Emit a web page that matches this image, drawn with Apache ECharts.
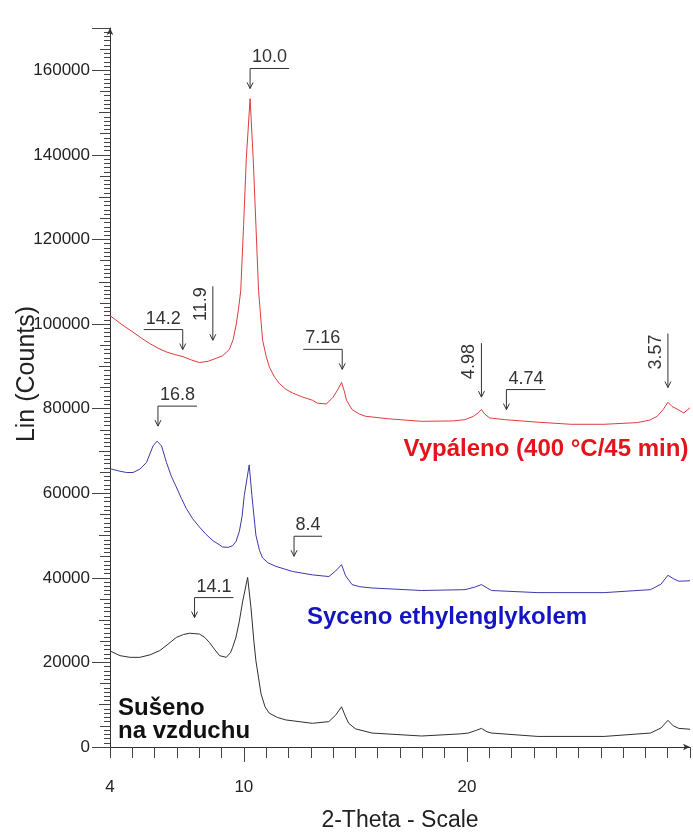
<!DOCTYPE html>
<html>
<head>
<meta charset="utf-8">
<script src="https://cdn.jsdelivr.net/npm/echarts@6/dist/echarts.min.js"></script>
<style>html,body{margin:0;padding:0;background:#fff}#c{width:693px;height:837px}</style>
</head>
<body>
<div id="c"></div>
<script>
// ---- Data (2-Theta, Lin counts) ----
const xTickLabels = [4, 10, 20];
const xMajorTicks = [10, 20];

const vypaleno = [
  [4.00,102000],[4.50,100000],[5.03,98100],[5.40,96700],[5.78,95400],[6.15,94300],[6.53,93400],[6.90,92800],
  [7.27,92300],[7.65,91500],[8.01,90900],[8.40,91200],[8.76,91900],[9.05,92500],[9.35,94000],[9.52,96300],
  [9.66,100000],[9.76,103500],[9.86,107900],[9.99,123500],[10.11,139100],[10.28,153300],[10.42,139100],
  [10.54,123500],[10.66,107900],[10.84,96200],[11.00,92400],[11.14,89900],[11.35,87700],[11.58,86000],
  [11.88,84600],[12.18,83700],[12.60,82800],[13.07,82000],[13.30,81300],[13.70,81100],[14.00,82700],
  [14.20,84400],[14.38,86200],[14.50,84200],[14.60,82000],[14.85,79800],[15.15,78800],[15.45,78200],
  [16.49,77600],[17.97,77000],[19.40,77100],[19.91,77400],[20.30,78200],[20.50,79000],[20.65,79800],
  [20.80,78700],[21.02,77800],[21.69,77400],[23.18,76800],[24.65,76300],[26.15,76300],[27.64,76700],
  [28.20,77300],[28.53,78200],[28.80,79800],[29.01,81500],[29.20,80500],[29.42,79900],[29.72,79000],[30.00,80200]
];

const syceno = [
  [4.00,65800],[4.45,65200],[4.74,64900],[5.03,64900],[5.34,65700],[5.64,67300],[5.93,71200],[6.11,72300],
  [6.31,71200],[6.53,67300],[6.75,64000],[6.97,61500],[7.20,58800],[7.42,56400],[7.70,54000],[8.01,52000],
  [8.30,50300],[8.61,48800],[9.05,47300],[9.30,47200],[9.50,47600],[9.65,48600],[9.80,51000],[9.92,54500],
  [10.02,59500],[10.24,66700],[10.36,59500],[10.54,50100],[10.70,46500],[10.84,44700],[11.10,43500],
  [11.44,42700],[12.18,41500],[13.07,40700],[13.81,40300],[14.11,41600],[14.38,43100],[14.56,40500],
  [14.85,38400],[15.20,37900],[15.74,37600],[17.97,37000],[19.91,37200],[20.35,37800],[20.65,38400],
  [21.10,37000],[23.18,36500],[26.15,36500],[28.23,37200],[28.70,38500],[29.01,40600],[29.25,39800],
  [29.50,39200],[30.00,39300]
];

const suseno = [
  [4.00,22700],[4.45,21600],[4.90,21200],[5.34,21200],[5.80,21800],[6.23,22800],[6.60,24300],[6.97,25900],
  [7.30,26600],[7.57,26900],[8.01,26700],[8.25,25900],[8.46,24700],[8.70,23000],[8.91,21600],[9.21,21200],
  [9.40,22300],[9.50,23600],[9.65,26000],[9.80,29800],[9.95,34500],[10.17,40100],[10.32,32900],[10.45,25000],
  [10.54,20400],[10.77,12600],[10.95,9500],[11.14,8000],[11.50,7000],[11.88,6400],[13.07,5600],[13.81,6000],
  [14.11,7500],[14.38,9500],[14.55,7300],[14.70,5600],[15.00,4300],[15.74,3300],[17.97,2600],[19.70,3100],
  [20.06,3300],[20.40,3900],[20.65,4400],[20.90,3600],[21.10,3300],[23.18,2500],[26.15,2500],[28.23,3300],
  [28.70,4500],[29.01,6300],[29.25,5000],[29.50,4400],[30.00,4200]
];

// d-spacing annotations: arrow tip position (2-Theta, counts)
const annotTheta  = [10.28, 7.26, 8.61, 14.41, 20.65, 21.77, 29.01, 6.15, 12.25, 7.79];
const annotCounts = [155700, 93970, 96170, 89290, 82730, 79780, 85000, 75870, 45100, 30600];
const annotText   = ['10.0','14.2','11.9','7.16','4.98','4.74','3.57','16.8','8.4','14.1'];
const annotSide   = ['right','left','up','left','up','right','up','right','right','right'];

// trace labels
const seriesNames = ['Vypáleno (400 °C/45 min)', 'Syceno ethylenglykolem', 'Sušeno\nna vzduchu'];
const nameTheta   = [17.16, 12.83, 4.36];
const nameCounts  = [70400, 30700, 6300];

// ---- Styles ----
const FONT = '"Liberation Sans", Arial, Helvetica, sans-serif';
const lineColors = ['#e03c3c', '#3a3aaa', '#303030'];
const nameColors = ['#e5141c', '#1414c4', '#111111'];
const ANN = '#333333';

function renderAnnot(params, api) {
  const i = api.value(2);
  const p = api.coord([api.value(0), api.value(1)]);
  const side = annotSide[i];
  const text = annotText[i];
  const ls = {stroke: ANN, lineWidth: 1, fill: 'none'};
  const children = [
    {type: 'polyline', shape: {points: [[p[0]-3, p[1]-6], [p[0], p[1]], [p[0]+3, p[1]-6]]}, style: ls}
  ];
  if (side === 'up') {
    const top = p[1] - 54;
    children.push({type: 'line', shape: {x1: p[0], y1: top, x2: p[0], y2: p[1]}, style: ls});
    children.push({type: 'text', x: p[0] - 12, y: top + 1, rotation: Math.PI / 2,
      style: {text: text, fill: ANN, font: '18px ' + FONT,
        textAlign: 'right', textVerticalAlign: 'middle', align: 'right', verticalAlign: 'middle'}});
  } else {
    const top = p[1] - 20;
    const len = 11 * text.length - 5;
    const x2 = side === 'right' ? p[0] + len : p[0] - len;
    children.push({type: 'line', shape: {x1: p[0], y1: top, x2: p[0], y2: p[1]}, style: ls});
    children.push({type: 'line', shape: {x1: p[0], y1: top, x2: x2, y2: top}, style: ls});
    children.push({type: 'text', x: (p[0] + x2) / 2, y: top - 2,
      style: {text: text, fill: ANN, font: '18px ' + FONT,
        textAlign: 'center', textVerticalAlign: 'bottom', align: 'center', verticalAlign: 'bottom'}});
  }
  return {type: 'group', children: children};
}

function renderName(params, api) {
  const i = api.value(2);
  const p = api.coord([api.value(0), api.value(1)]);
  return {type: 'text', x: p[0], y: p[1],
    style: {text: seriesNames[i], fill: nameColors[i], font: 'bold 24px ' + FONT, lineHeight: 23,
      textAlign: 'left', textVerticalAlign: 'middle', align: 'left', verticalAlign: 'middle'}};
}

function yAx(interval, len, main) {
  return {
    type: 'value', min: 0, max: 170000, interval: interval, position: 'left', offset: 0,
    axisLine: main ? {show: true, lineStyle: {color: '#333', width: 1}, symbol: ['none', 'arrow'], symbolSize: [5, 7]} : {show: false},
    axisTick: {show: true, length: len, lineStyle: {color: '#444', width: 1}},
    axisLabel: main ? {show: true, margin: 20, color: '#222', fontSize: 17, fontFamily: FONT,
      formatter: v => (v >= 170000 ? '' : String(v))} : {show: false},
    splitLine: {show: false}
  };
}

const chart = echarts.init(document.getElementById('c'), null, {renderer: 'canvas'});
chart.setOption({
  animation: false,
  backgroundColor: '#ffffff',
  grid: {left: 110, right: 1, top: 28, bottom: 83, containLabel: false},
  xAxis: [
    {
      type: 'value', min: 4, max: 30, interval: 1, position: 'bottom',
      axisLine: {show: true, lineStyle: {color: '#333', width: 1}, symbol: ['none', 'arrow'], symbolSize: [5, 7]},
      axisTick: {show: true, length: 11, lineStyle: {color: '#444', width: 1}},
      axisLabel: {show: true, margin: 32, color: '#222', fontSize: 17, fontFamily: FONT,
        formatter: v => (xTickLabels.indexOf(v) >= 0 ? String(v) : '')},
      splitLine: {show: false},
      name: '2-Theta - Scale', nameLocation: 'middle', nameGap: 62,
      nameTextStyle: {fontSize: 23, color: '#222', fontFamily: FONT}
    },
    {
      type: 'value', min: 4, max: 30, position: 'bottom', offset: 0,
      axisLine: {show: false},
      axisTick: {show: true, length: 15, customValues: xMajorTicks, lineStyle: {color: '#444', width: 1}},
      axisLabel: {show: false},
      splitLine: {show: false}
    }
  ],
  yAxis: [yAx(20000, 18, true), yAx(10000, 11, false), yAx(5000, 10, false), yAx(1000, 6, false)],
  graphic: [{
    type: 'text', x: 27, y: 374, rotation: Math.PI / 2,
    style: {text: 'Lin (Counts)', fill: '#222', font: '25px ' + FONT,
      textAlign: 'center', textVerticalAlign: 'middle', align: 'center', verticalAlign: 'middle'}
  }],
  series: [
    {type: 'line', name: 'Vypáleno', data: vypaleno, xAxisIndex: 0, yAxisIndex: 0, symbol: 'none', showSymbol: false,
      lineStyle: {color: lineColors[0], width: 1}, silent: true},
    {type: 'line', name: 'Syceno', data: syceno, xAxisIndex: 0, yAxisIndex: 0, symbol: 'none', showSymbol: false,
      lineStyle: {color: lineColors[1], width: 1}, silent: true},
    {type: 'line', name: 'Sušeno', data: suseno, xAxisIndex: 0, yAxisIndex: 0, symbol: 'none', showSymbol: false,
      lineStyle: {color: lineColors[2], width: 1}, silent: true},
    {type: 'custom', name: 'annotations', xAxisIndex: 0, yAxisIndex: 0, renderItem: renderAnnot,
      data: annotTheta.map((x, i) => [x, annotCounts[i], i]), encode: {x: 0, y: 1}, clip: false, silent: true, z: 5},
    {type: 'custom', name: 'labels', xAxisIndex: 0, yAxisIndex: 0, renderItem: renderName,
      data: nameTheta.map((x, i) => [x, nameCounts[i], i]), encode: {x: 0, y: 1}, clip: false, silent: true, z: 6}
  ]
});
</script>
</body>
</html>
